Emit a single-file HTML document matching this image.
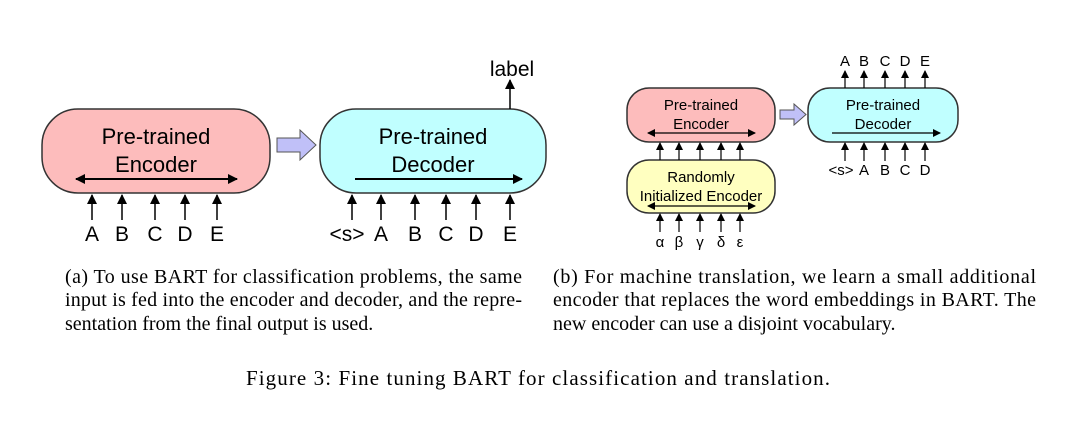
<!DOCTYPE html>
<html><head><meta charset="utf-8"><style>
html,body{margin:0;padding:0;background:#fff;}
svg{display:block;}
.s{font-family:"Liberation Sans",sans-serif;fill:#000;}
.r{font-family:"Liberation Serif",serif;fill:#000;font-size:20px;}
</style></head><body>
<svg width="1070" height="422" viewBox="0 0 1070 422" xmlns="http://www.w3.org/2000/svg">
<defs>
<marker id="ah" markerWidth="10" markerHeight="10" refX="9" refY="5" orient="auto-start-reverse" markerUnits="userSpaceOnUse">
<path d="M0,0 L10,5 L0,10 z" fill="#000"/></marker>
<marker id="as" markerWidth="8" markerHeight="8" refX="7" refY="4" orient="auto-start-reverse" markerUnits="userSpaceOnUse">
<path d="M0,0 L8,4 L0,8 z" fill="#000"/></marker>
</defs>
<g stroke="#000" stroke-width="1.5" fill="none">
<rect x="42" y="109" width="228" height="84" rx="36" fill="#fdbcbc" stroke="#333"/>
<rect x="320" y="109" width="226" height="84" rx="36" fill="#c0ffff" stroke="#333"/>
<line x1="76" y1="179" x2="237" y2="179" marker-end="url(#ah)" marker-start="url(#ah)" stroke-width="2"/>
<line x1="355" y1="179" x2="522" y2="179" marker-end="url(#ah)" stroke-width="2"/>
<path d="M277,138 L300,138 L300,130 L316,145 L300,160 L300,152 L277,152 z" fill="#c0c0f8" stroke="#555" stroke-width="1"/>
<g stroke-width="1.5">
<line x1="92" y1="220" x2="92" y2="195" marker-end="url(#ah)"/>
<line x1="122" y1="220" x2="122" y2="195" marker-end="url(#ah)"/>
<line x1="155" y1="220" x2="155" y2="195" marker-end="url(#ah)"/>
<line x1="185" y1="220" x2="185" y2="195" marker-end="url(#ah)"/>
<line x1="217" y1="220" x2="217" y2="195" marker-end="url(#ah)"/>
<line x1="352" y1="220" x2="352" y2="195" marker-end="url(#ah)"/>
<line x1="381" y1="220" x2="381" y2="195" marker-end="url(#ah)"/>
<line x1="415" y1="220" x2="415" y2="195" marker-end="url(#ah)"/>
<line x1="446" y1="220" x2="446" y2="195" marker-end="url(#ah)"/>
<line x1="476" y1="220" x2="476" y2="195" marker-end="url(#ah)"/>
<line x1="510" y1="220" x2="510" y2="195" marker-end="url(#ah)"/>
<line x1="510" y1="109" x2="510" y2="80" marker-end="url(#ah)"/>
</g>
<rect x="627" y="88" width="148" height="54" rx="22" fill="#fdbcbc" stroke="#333"/>
<rect x="627" y="160" width="148" height="53" rx="22" fill="#ffffc0" stroke="#333"/>
<rect x="808" y="88" width="150" height="54" rx="22" fill="#c0ffff" stroke="#333"/>
<line x1="648" y1="133" x2="755" y2="133" marker-end="url(#as)" marker-start="url(#as)" stroke-width="1.3"/>
<line x1="648" y1="206" x2="755" y2="206" marker-end="url(#as)" marker-start="url(#as)" stroke-width="1.3"/>
<line x1="832" y1="133" x2="940" y2="133" marker-end="url(#as)" stroke-width="1.3"/>
<path d="M780,110 L794,110 L794,104 L806,114.5 L794,125 L794,119 L780,119 z" fill="#c0c0f8" stroke="#555" stroke-width="1"/>
<g stroke-width="1.2">
<line x1="660" y1="160" x2="660" y2="143" marker-end="url(#as)"/>
<line x1="679" y1="160" x2="679" y2="143" marker-end="url(#as)"/>
<line x1="700" y1="160" x2="700" y2="143" marker-end="url(#as)"/>
<line x1="721" y1="160" x2="721" y2="143" marker-end="url(#as)"/>
<line x1="740" y1="160" x2="740" y2="143" marker-end="url(#as)"/>
<line x1="660" y1="232" x2="660" y2="214" marker-end="url(#as)"/>
<line x1="679" y1="232" x2="679" y2="214" marker-end="url(#as)"/>
<line x1="700" y1="232" x2="700" y2="214" marker-end="url(#as)"/>
<line x1="721" y1="232" x2="721" y2="214" marker-end="url(#as)"/>
<line x1="740" y1="232" x2="740" y2="214" marker-end="url(#as)"/>
<line x1="845" y1="161" x2="845" y2="143" marker-end="url(#as)"/>
<line x1="864" y1="161" x2="864" y2="143" marker-end="url(#as)"/>
<line x1="885" y1="161" x2="885" y2="143" marker-end="url(#as)"/>
<line x1="905" y1="161" x2="905" y2="143" marker-end="url(#as)"/>
<line x1="925" y1="161" x2="925" y2="143" marker-end="url(#as)"/>
<line x1="845" y1="88" x2="845" y2="71" marker-end="url(#as)"/>
<line x1="864" y1="88" x2="864" y2="71" marker-end="url(#as)"/>
<line x1="885" y1="88" x2="885" y2="71" marker-end="url(#as)"/>
<line x1="905" y1="88" x2="905" y2="71" marker-end="url(#as)"/>
<line x1="925" y1="88" x2="925" y2="71" marker-end="url(#as)"/>
</g>
</g>
<g class="s" text-anchor="middle">
<text x="156" y="144" font-size="22">Pre-trained</text>
<text x="156" y="172" font-size="22">Encoder</text>
<text x="433" y="144" font-size="22">Pre-trained</text>
<text x="433" y="172" font-size="22">Decoder</text>
<g font-size="21">
<text x="92" y="241">A</text><text x="122" y="241">B</text><text x="155" y="241">C</text><text x="185" y="241">D</text><text x="217" y="241">E</text>
<text x="347" y="241">&lt;s&gt;</text><text x="381" y="241">A</text><text x="415" y="241">B</text><text x="446" y="241">C</text><text x="476" y="241">D</text><text x="510" y="241">E</text>
<text x="512" y="76">label</text>
</g>
<g font-size="15">
<text x="701" y="110">Pre-trained</text>
<text x="701" y="129">Encoder</text>
<text x="701" y="182">Randomly</text>
<text x="701" y="201">Initialized Encoder</text>
<text x="883" y="110">Pre-trained</text>
<text x="883" y="129">Decoder</text>
<text x="660" y="247">α</text><text x="679" y="247">β</text><text x="700" y="247">γ</text><text x="721" y="247">δ</text><text x="740" y="247">ε</text>
<text x="841" y="175">&lt;s&gt;</text><text x="864" y="175">A</text><text x="885" y="175">B</text><text x="905" y="175">C</text><text x="925" y="175">D</text>
<text x="845" y="66">A</text><text x="864" y="66">B</text><text x="885" y="66">C</text><text x="905" y="66">D</text><text x="925" y="66">E</text>
</g>
</g>
<g class="r">
<text x="65" y="283" textLength="457" lengthAdjust="spacing">(a)  To use BART for classification problems, the same</text>
<text x="65" y="306" textLength="457" lengthAdjust="spacing">input is fed into the encoder and decoder, and the repre-</text>
<text x="65" y="330">sentation from the final output is used.</text>
<text x="553" y="283" textLength="483" lengthAdjust="spacing">(b)  For machine translation, we learn a small additional</text>
<text x="553" y="306" textLength="483" lengthAdjust="spacing">encoder that replaces the word embeddings in BART. The</text>
<text x="553" y="330">new encoder can use a disjoint vocabulary.</text>
<text x="246" y="385" textLength="584" lengthAdjust="spacing" font-size="21">Figure 3: Fine tuning BART for classification and translation.</text>
</g>
</svg>
</body></html>
